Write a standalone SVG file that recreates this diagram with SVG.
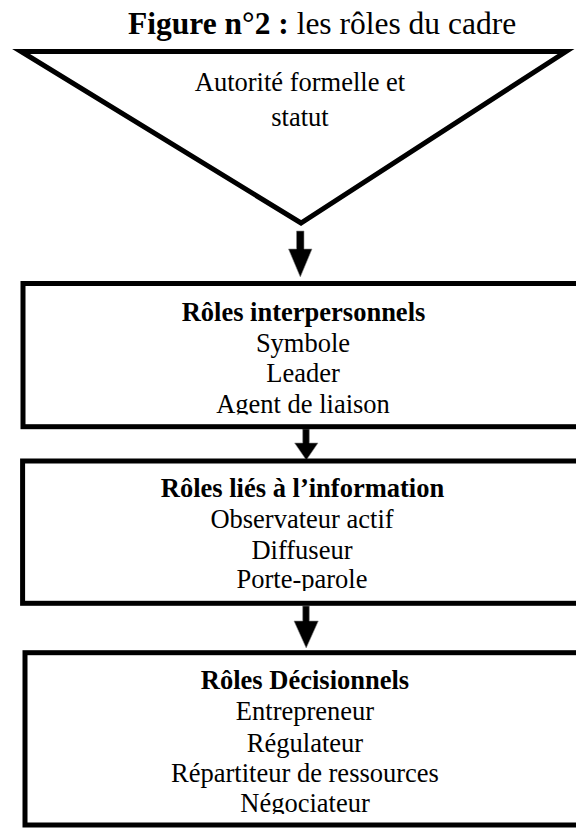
<svg xmlns="http://www.w3.org/2000/svg" width="576" height="828" viewBox="0 0 576 828">
  <style>
    text { font-family: "Liberation Serif", "Times New Roman", serif; fill: #000; text-anchor: middle; }
    .title { font-size: 31.5px; text-anchor: start; }
    .body { font-size: 26.5px; }
    .b { font-weight: bold; }
    .frame { fill: #fff; stroke: #000; stroke-width: 5; stroke-linejoin: miter; }
    .arrow { fill: #000; stroke: #8a8a8a; stroke-width: 0.6; }
  </style>
  <defs>
    <clipPath id="clip-inter"><rect x="26" y="287" width="550" height="127.5"/></clipPath>
    <clipPath id="clip-info"><rect x="26" y="464" width="550" height="127"/></clipPath>
    <clipPath id="clip-dec"><rect x="28" y="656" width="548" height="158"/></clipPath>
  </defs>
  <rect width="576" height="828" fill="#fff"/>

  <!-- heading -->
  <g id="title">
    <text class="title" x="128" y="34"><tspan class="b">Figure n°2 :</tspan> les rôles du cadre</text>
  </g>

  <!-- top funnel: authority and status -->
  <g id="autorite">
    <polygon class="frame" points="21,51.5 566,51.5 301,223"/>
    <text class="body" x="300" y="91">Autorité formelle et</text>
    <text class="body" x="300" y="126">statut</text>
  </g>

  <!-- downward block arrows -->
  <g id="connectors">
    <path class="arrow" d="M296.5,231 H304 V249 H312 L300.3,277 L288.5,249 H296.5 Z"/>
    <path class="arrow" d="M302.7,429 H309.3 V443 H318 L306.3,460 L294.6,443 H302.7 Z"/>
    <path class="arrow" d="M302.7,606 H309.3 V621 H318.3 L306.2,648 L294,621 H302.7 Z"/>
  </g>

  <!-- interpersonal roles -->
  <g id="roles-interpersonnels">
    <rect class="frame" x="23" y="283.5" width="560" height="143.2"/>
    <g clip-path="url(#clip-inter)">
      <text class="body b" x="303.5" y="320.7">Rôles interpersonnels</text>
      <text class="body" x="303" y="351.5">Symbole</text>
      <text class="body" x="303" y="381.7">Leader</text>
      <text class="body" x="303" y="412.5">Agent de liaison</text>
    </g>
  </g>

  <!-- informational roles -->
  <g id="roles-information">
    <rect class="frame" x="22.6" y="461" width="560" height="142.3"/>
    <g clip-path="url(#clip-info)">
      <text class="body b" x="302.5" y="497.3">Rôles liés à l’information</text>
      <text class="body" x="302" y="528.3">Observateur actif</text>
      <text class="body" x="302" y="559.3">Diffuseur</text>
      <text class="body" x="302" y="588.3">Porte-parole</text>
    </g>
  </g>

  <!-- decisional roles -->
  <g id="roles-decisionnels">
    <rect class="frame" x="25" y="652.7" width="560" height="172.3"/>
    <g clip-path="url(#clip-dec)">
      <text class="body b" x="305" y="689.3">Rôles Décisionnels</text>
      <text class="body" x="305" y="720">Entrepreneur</text>
      <text class="body" x="305" y="751.7">Régulateur</text>
      <text class="body" x="305" y="781.7">Répartiteur de ressources</text>
      <text class="body" x="305" y="812">Négociateur</text>
    </g>
  </g>
</svg>
